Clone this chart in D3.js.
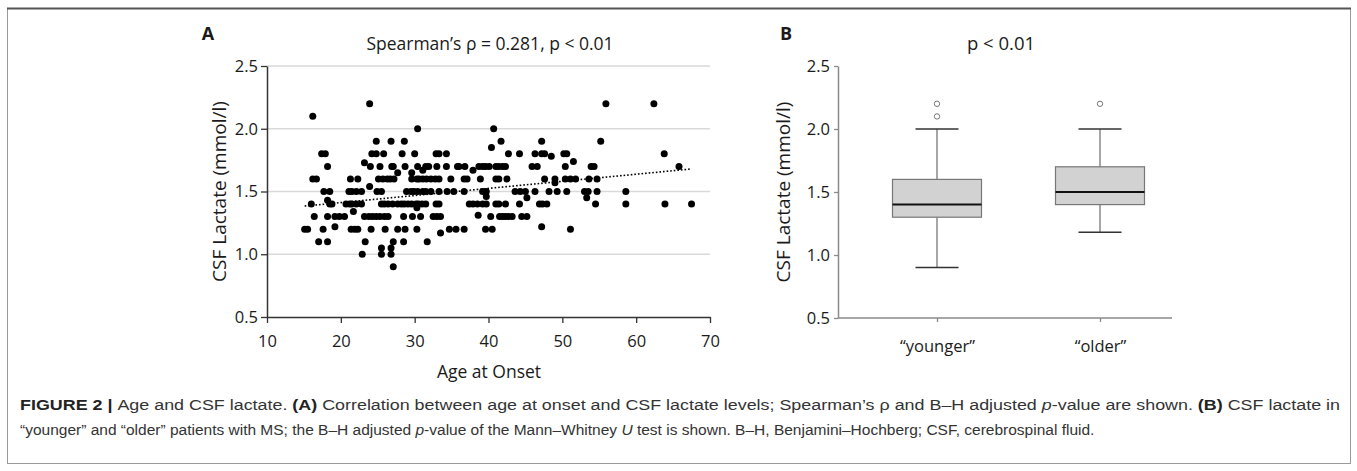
<!DOCTYPE html>
<html><head><meta charset="utf-8">
<script src="https://cdn.jsdelivr.net/npm/d3@7"></script>
<style>
html,body{margin:0;padding:0;background:#fff;}
svg{display:block;}
.chart text{font-family:"Open Sans",sans-serif;fill:#1a1a1a;}
.cap text{font-family:"Liberation Sans",Arial,sans-serif;fill:#333;}
</style></head>
<body>
<svg id="fig" width="1357" height="471"></svg>
<script>
// ---------- Data: panel A (scatter) ----------
const lactateLevels = [2.2, 2.1, 2.0, 1.9, 1.85, 1.8, 1.78, 1.74, 1.73, 1.7, 1.67, 1.65, 1.6, 1.57, 1.54, 1.5, 1.46, 1.45, 1.43, 1.4, 1.37, 1.34, 1.31, 1.3, 1.22, 1.2, 1.17, 1.1, 1.05, 1.0, 0.9];
const agesAtLevel = [
  [23.9, 55.9, 62.4],
  [16.2],
  [30.4, 40.7],
  [24.8, 26.8, 28.6, 41.7, 47.2, 55.2],
  [40.4],
  [17.4, 17.9, 24.2, 24.8, 25.8, 28.3, 30.0, 32.9, 33.3, 34.3, 42.7, 44.2, 46.3, 47.2, 47.6, 50.2, 50.6, 63.8],
  [48.5],
  [51.5],
  [23.2],
  [18.2, 24.0, 25.3, 26.9, 27.1, 28.7, 30.4, 31.5, 31.9, 33.0, 34.3, 35.8, 36.0, 36.8, 38.7, 39.2, 39.6, 40.1, 41.0, 41.4, 41.9, 42.3, 45.9, 46.6, 50.4, 53.9, 54.3, 65.8],
  [31.1, 37.9],
  [27.7, 29.6],
  [16.2, 16.7, 21.3, 22.3, 25.1, 25.7, 26.3, 26.7, 27.2, 29.6, 30.3, 30.6, 31.1, 31.6, 32.2, 32.8, 33.3, 34.9, 36.7, 37.1, 38.9, 41.0, 41.4, 42.5, 47.6, 49.0, 50.4, 51.1, 51.8, 53.6, 54.7],
  [49.0],
  [23.9],
  [17.7, 18.5, 21.1, 21.5, 22.1, 22.8, 24.9, 25.5, 28.9, 29.5, 29.9, 30.4, 31.1, 31.5, 32.2, 33.3, 34.4, 35.3, 36.7, 39.2, 39.7, 43.6, 44.3, 45.0, 46.3, 48.2, 49.3, 50.6, 53.0, 53.5, 54.7, 58.6],
  [39.7],
  [45.2, 53.3],
  [18.2],
  [16.0, 18.5, 18.8, 20.7, 21.2, 21.5, 22.1, 22.8, 25.5, 25.9, 26.4, 27.0, 27.7, 28.2, 28.6, 29.1, 29.6, 30.2, 30.5, 31.0, 31.5, 32.9, 33.3, 37.4, 37.9, 38.5, 39.2, 39.7, 41.0, 41.4, 42.3, 44.2, 46.9, 47.3, 47.9, 54.5, 58.6, 63.9, 67.5],
  [30.3],
  [21.7],
  [38.6],
  [16.4, 18.2, 19.2, 19.8, 20.5, 23.2, 23.8, 24.3, 24.8, 25.3, 25.9, 26.4, 28.5, 29.7, 30.8, 32.5, 33.0, 33.5, 40.3, 41.5, 41.9, 42.3, 42.7, 43.2, 44.5, 45.2],
  [19.2, 47.2],
  [15.1, 15.5, 17.6, 21.4, 21.9, 22.3, 24.1, 26.0, 27.7, 28.7, 30.3, 34.7, 35.6, 36.7, 39.6, 40.5, 51.1],
  [33.5],
  [17.0, 18.2, 23.3, 27.1, 28.5, 31.7],
  [25.5, 26.8],
  [22.9, 25.5, 26.8],
  [27.1]
];
const trendAges = [15.1, 67.5];
const trendLactate = [1.384, 1.68];
const xTicksA = [10, 20, 30, 40, 50, 60, 70];
const yTicks = [0.5, 1.0, 1.5, 2.0, 2.5];

// ---------- Data: panel B (box plot) ----------
const groups = ["\u201Cyounger\u201D", "\u201Colder\u201D"];
const whiskerLow = [0.9, 1.18];
const q1 = [1.3, 1.4];
const median = [1.4, 1.5];
const q3 = [1.6, 1.7];
const whiskerHigh = [2.0, 2.0];
const outliers = [[2.1, 2.2], [2.2]];

// ---------- Texts ----------
const titleA = "Spearman\u2019s \u03C1 = 0.281, p < 0.01";
const titleB = "p < 0.01";
const yTitle = "CSF Lactate (mmol/l)";
const xTitleA = "Age at Onset";

const svg = d3.select("#fig");

// frame
svg.append("rect").attr("x", 7.5).attr("y", 8.5).attr("width", 1343).attr("height", 455)
  .attr("fill", "none").attr("stroke", "#9a9a9a").attr("stroke-width", 1);
svg.append("line").attr("x1", 7).attr("x2", 1351).attr("y1", 8.5).attr("y2", 8.5)
  .attr("stroke", "#555").attr("stroke-width", 2);

const chart = svg.append("g").attr("class", "chart");
const tickFont = 16.5, titleFont = 17.5, axisTitleFont = 19;

// ===== Panel A =====
const xA = d3.scaleLinear().domain([10, 70]).range([267, 710]);
const yA = d3.scaleLinear().domain([0.5, 2.5]).range([317, 66]);

const gA = chart.append("g");
gA.append("g").selectAll("line").data(yTicks.filter(d => d > 0.5)).join("line")
  .attr("x1", xA(10)).attr("x2", xA(70))
  .attr("y1", d => yA(d)).attr("y2", d => yA(d))
  .attr("stroke", "#d9d9d9").attr("stroke-width", 1.3);

const axYA = gA.append("g").attr("transform", `translate(${xA(10)},0)`)
  .call(d3.axisLeft(yA).tickValues(yTicks).tickFormat(d3.format(".1f")).tickSize(6).tickSizeOuter(0));
const axXA = gA.append("g").attr("transform", `translate(0,${yA(0.5)})`)
  .call(d3.axisBottom(xA).tickValues(xTicksA).tickFormat(d3.format("d")).tickSize(6).tickSizeOuter(0));
[axYA, axXA].forEach(a => {
  a.select(".domain").attr("stroke", "#333").attr("stroke-width", 1.5);
  a.selectAll(".tick line").attr("stroke", "#333").attr("stroke-width", 1.3);
  a.selectAll(".tick text").attr("font-size", tickFont).attr("fill", "#1a1a1a");
});
axYA.selectAll(".tick text").attr("x", -9);
axXA.selectAll(".tick text").attr("y", 18);

const pts = [];
lactateLevels.forEach((v, i) => agesAtLevel[i].forEach(a => pts.push({age: a, lac: v})));
gA.append("g").selectAll("circle").data(pts).join("circle")
  .attr("cx", d => xA(d.age)).attr("cy", d => yA(d.lac)).attr("r", 3.5).attr("fill", "#000");

gA.append("line")
  .attr("x1", xA(trendAges[0])).attr("y1", yA(trendLactate[0]))
  .attr("x2", xA(trendAges[1])).attr("y2", yA(trendLactate[1]))
  .attr("stroke", "#000").attr("stroke-width", 1.6).attr("stroke-dasharray", "1.6,2");

gA.append("text").attr("x", 208).attr("y", 40).attr("text-anchor", "middle")
  .attr("font-size", 18).attr("font-weight", "bold").attr("fill", "#000").text("A");
gA.append("text").attr("x", 490).attr("y", 50).attr("text-anchor", "middle")
  .attr("font-size", titleFont).text(titleA);
gA.append("text").attr("x", 489).attr("y", 378).attr("text-anchor", "middle")
  .attr("font-size", 17.5).text(xTitleA);
gA.append("text").attr("transform", `translate(226,${(yA(0.5) + yA(2.5)) / 2}) rotate(-90)`)
  .attr("text-anchor", "middle").attr("font-size", axisTitleFont).text(yTitle);

// ===== Panel B =====
const yB = d3.scaleLinear().domain([0.5, 2.5]).range([318, 66]);
const xB = d3.scalePoint().domain(groups).range([937, 1100]);
const axisLeftB = 838, axisRightB = 1172;
const boxW = 89, capW = 43;

const gB = chart.append("g");
const axYB = gB.append("g").attr("transform", `translate(${axisLeftB},0)`)
  .call(d3.axisLeft(yB).tickValues(yTicks).tickFormat(d3.format(".1f")).tickSize(4).tickSizeOuter(0));
axYB.select(".domain").attr("stroke", "#8a8a8a").attr("stroke-width", 1.5);
axYB.selectAll(".tick line").attr("stroke", "#8a8a8a").attr("stroke-width", 1.3);
axYB.selectAll(".tick text").attr("font-size", tickFont).attr("fill", "#1a1a1a").attr("x", -8);

gB.append("line").attr("x1", axisLeftB).attr("x2", axisRightB).attr("y1", yB(0.5)).attr("y2", yB(0.5))
  .attr("stroke", "#8a8a8a").attr("stroke-width", 1.5);
const axXB = gB.append("g").attr("transform", `translate(0,${yB(0.5)})`)
  .call(d3.axisBottom(xB).tickSize(4).tickSizeOuter(0));
axXB.select(".domain").remove();
axXB.selectAll(".tick line").attr("stroke", "#8a8a8a").attr("stroke-width", 1.3);
axXB.selectAll(".tick text").attr("font-size", tickFont).attr("fill", "#1a1a1a").attr("y", 22);

const boxes = gB.append("g").selectAll("g").data(groups).join("g");
boxes.append("line").attr("x1", d => xB(d)).attr("x2", d => xB(d))
  .attr("y1", (d, i) => yB(whiskerLow[i])).attr("y2", (d, i) => yB(q1[i]))
  .attr("stroke", "#777").attr("stroke-width", 1.3);
boxes.append("line").attr("x1", d => xB(d)).attr("x2", d => xB(d))
  .attr("y1", (d, i) => yB(q3[i])).attr("y2", (d, i) => yB(whiskerHigh[i]))
  .attr("stroke", "#777").attr("stroke-width", 1.3);
boxes.append("line").attr("x1", d => xB(d) - capW / 2).attr("x2", d => xB(d) + capW / 2)
  .attr("y1", (d, i) => yB(whiskerLow[i])).attr("y2", (d, i) => yB(whiskerLow[i]))
  .attr("stroke", "#333").attr("stroke-width", 1.5);
boxes.append("line").attr("x1", d => xB(d) - capW / 2).attr("x2", d => xB(d) + capW / 2)
  .attr("y1", (d, i) => yB(whiskerHigh[i])).attr("y2", (d, i) => yB(whiskerHigh[i]))
  .attr("stroke", "#333").attr("stroke-width", 1.5);
boxes.append("rect").attr("x", d => xB(d) - boxW / 2).attr("width", boxW)
  .attr("y", (d, i) => yB(q3[i])).attr("height", (d, i) => yB(q1[i]) - yB(q3[i]))
  .attr("fill", "#d2d2d2").attr("stroke", "#777").attr("stroke-width", 1.2);
boxes.append("line").attr("x1", d => xB(d) - boxW / 2).attr("x2", d => xB(d) + boxW / 2)
  .attr("y1", (d, i) => yB(median[i])).attr("y2", (d, i) => yB(median[i]))
  .attr("stroke", "#111").attr("stroke-width", 2);
boxes.each(function (d, i) {
  d3.select(this).selectAll("circle.out").data(outliers[i]).join("circle").attr("class", "out")
    .attr("cx", xB(d)).attr("cy", v => yB(v)).attr("r", 2.7)
    .attr("fill", "#fff").attr("stroke", "#777").attr("stroke-width", 1);
});

gB.append("text").attr("x", 786).attr("y", 40).attr("text-anchor", "middle")
  .attr("font-size", 18).attr("font-weight", "bold").attr("fill", "#000").text("B");
gB.append("text").attr("x", 1001).attr("y", 50).attr("text-anchor", "middle")
  .attr("font-size", 18.5).text(titleB);
gB.append("text").attr("transform", `translate(790,${(yB(0.5) + yB(2.5)) / 2}) rotate(-90)`)
  .attr("text-anchor", "middle").attr("font-size", axisTitleFont).text(yTitle);

// ===== Caption =====
const cap = svg.append("g").attr("class", "cap");
const line1 = [
  {t: "FIGURE 2 | ", b: true}, {t: "Age and CSF lactate. "}, {t: "(A)", b: true},
  {t: " Correlation between age at onset and CSF lactate levels; Spearman\u2019s \u03C1 and B\u2013H adjusted "},
  {t: "p", i: true}, {t: "-value are shown. "}, {t: "(B)", b: true}, {t: " CSF lactate in"}
];
const line2 = [
  {t: "\u201Cyounger\u201D and \u201Colder\u201D patients with MS; the B\u2013H adjusted "}, {t: "p", i: true},
  {t: "-value of the Mann\u2013Whitney "}, {t: "U", i: true},
  {t: " test is shown. B\u2013H, Benjamini\u2013Hochberg; CSF, cerebrospinal fluid."}
];
function capLine(parts, y, len) {
  const t = cap.append("text").attr("x", 20).attr("y", y).attr("font-size", 15.5)
    .attr("xml:space", "preserve");
  if (len) t.attr("textLength", len).attr("lengthAdjust", "spacingAndGlyphs");
  parts.forEach(p => t.append("tspan").text(p.t)
    .attr("font-weight", p.b ? "bold" : null).attr("font-style", p.i ? "italic" : null)
    .attr("fill", p.b ? "#222" : "#333"));
}
capLine(line1, 410, 1320);
capLine(line2, 435, null);
</script>
</body></html>
